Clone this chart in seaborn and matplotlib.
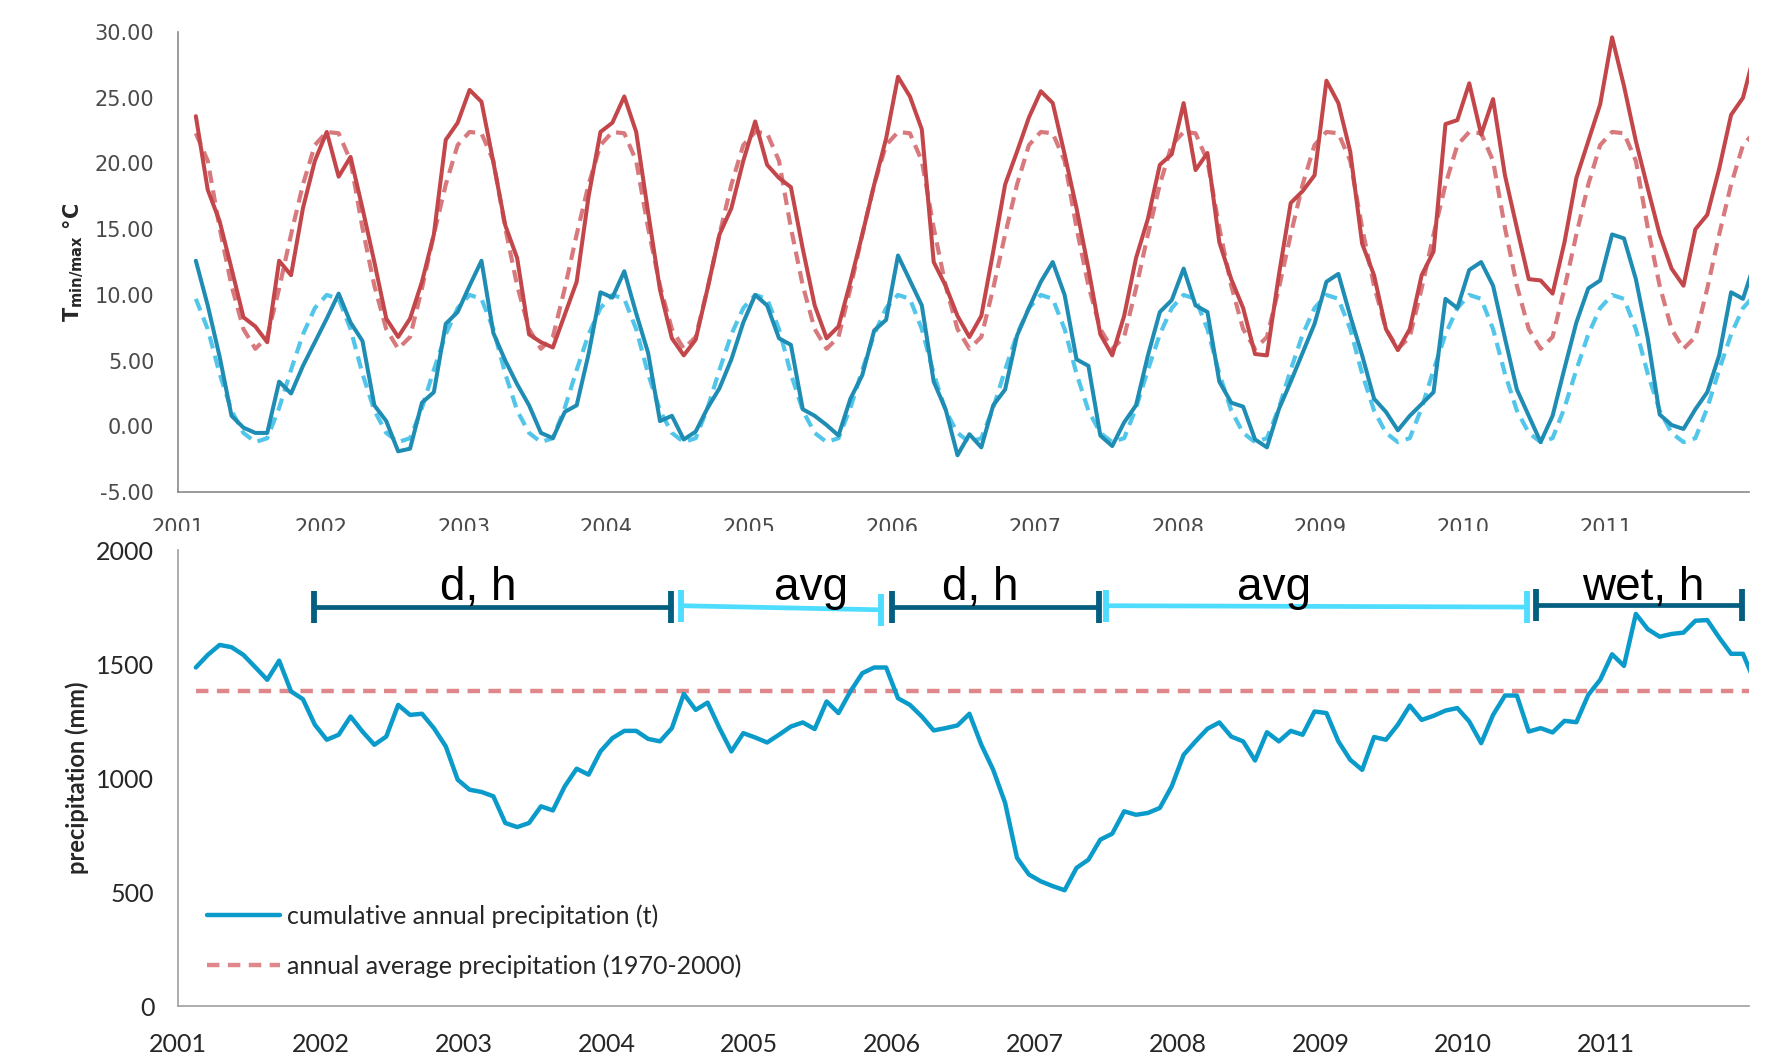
import numpy as np
import pandas as pd
import matplotlib
matplotlib.use("Agg")
import matplotlib.pyplot as plt
from matplotlib.patches import Rectangle
import seaborn as sns

# === data: monthly values Feb 2001 - Jan 2012 ===
months = pd.date_range("2001-02-01", "2012-01-01", freq="MS")

tmax = [23.6, 18.0, 15.6, 12.0, 8.3, 7.6, 6.4, 12.6, 11.5, 16.6, 20.2, 22.4,
        19.0, 20.5, 16.6, 12.5, 8.2, 6.8, 8.2, 11.0, 14.6, 21.8, 23.1, 25.6,
        24.7, 20.1, 15.3, 12.8, 7.0, 6.4, 6.0, 8.5, 11.0, 17.5, 22.4, 23.1,
        25.1, 22.4, 16.3, 10.4, 6.7, 5.4, 6.6, 10.5, 14.6, 16.6, 20.2, 23.2,
        19.9, 18.9, 18.2, 13.5, 9.2, 6.7, 7.6, 11.0, 14.6, 18.4, 21.9, 26.6,
        25.1, 22.6, 12.5, 10.7, 8.4, 6.8, 8.4, 13.3, 18.4, 20.9, 23.5, 25.5,
        24.6, 20.7, 16.6, 12.0, 7.0, 5.4, 8.4, 12.8, 15.8, 19.9, 20.7, 24.6,
        19.5, 20.8, 14.0, 11.2, 9.0, 5.5, 5.4, 11.5, 17.0, 17.9, 19.1, 26.3,
        24.6, 20.9, 13.9, 11.5, 7.4, 5.8, 7.4, 11.5, 13.3, 23.0, 23.3, 26.1,
        22.2, 24.9, 19.1, 15.1, 11.2, 11.1, 10.1, 14.0, 18.9, 21.7, 24.5, 29.6,
        25.9, 21.7, 18.1, 14.6, 12.0, 10.7, 15.0, 16.1, 19.6, 23.7, 25.0, 28.5]

tmin = [12.6, 9.2, 5.3, 0.8, -0.1, -0.5, -0.5, 3.4, 2.5, 4.6, 6.4, 8.2,
        10.1, 7.9, 6.5, 1.6, 0.4, -1.9, -1.7, 1.8, 2.6, 7.8, 8.7, 10.7,
        12.6, 7.1, 5.0, 3.2, 1.6, -0.5, -0.9, 1.1, 1.6, 5.5, 10.2, 9.8,
        11.8, 8.6, 5.6, 0.4, 0.8, -1.0, -0.4, 1.4, 2.9, 5.1, 7.9, 10.0,
        9.2, 6.7, 6.2, 1.3, 0.8, 0.1, -0.7, 2.1, 3.9, 7.3, 8.1, 13.0,
        11.1, 9.2, 3.4, 1.3, -2.2, -0.6, -1.6, 1.6, 2.8, 6.9, 9.0, 11.0,
        12.5, 10.0, 5.1, 4.6, -0.7, -1.5, 0.3, 1.6, 5.4, 8.7, 9.6, 12.0,
        9.2, 8.7, 3.4, 1.8, 1.5, -1.0, -1.6, 1.3, 3.4, 5.6, 7.8, 11.0,
        11.6, 8.4, 5.4, 2.1, 1.1, -0.3, 0.8, 1.7, 2.6, 9.7, 9.0, 11.9,
        12.5, 10.7, 6.7, 2.8, 0.8, -1.2, 0.8, 4.4, 7.9, 10.5, 11.1, 14.6,
        14.3, 11.2, 6.7, 0.9, 0.1, -0.2, 1.3, 2.6, 5.4, 10.2, 9.7, 12.5]

# 1970-2000 monthly normals, Jan..Dec
tmax_normal = [22.4, 22.3, 20.2, 15.1, 10.7, 7.4, 5.9, 6.8, 10.5, 14.6, 18.4, 21.4]
tmin_normal = [10.0, 9.7, 7.4, 4.0, 1.2, -0.5, -1.2, -0.9, 1.4, 4.3, 7.0, 9.0]

precip = [1485, 1540, 1584, 1574, 1540, 1486, 1431, 1515, 1380, 1346, 1234, 1168,
          1190, 1270, 1204, 1146, 1182, 1321, 1277, 1282, 1219, 1139, 993, 949,
          939, 920, 803, 785, 803, 876, 858, 964, 1041, 1015, 1117, 1175,
          1207, 1207, 1172, 1161, 1219, 1369, 1299, 1331, 1219, 1117, 1197, 1178,
          1156, 1190, 1226, 1244, 1215, 1336, 1285, 1380, 1460, 1485, 1485, 1350,
          1321, 1270, 1209, 1219, 1231, 1282, 1146, 1036, 891, 650, 577, 547,
          526, 508, 606, 642, 730, 756, 854, 839, 847, 869, 964, 1102,
          1161, 1216, 1244, 1182, 1161, 1077, 1201, 1161, 1207, 1190, 1292, 1285,
          1161, 1080, 1036, 1180, 1168, 1234, 1318, 1255, 1273, 1296, 1307, 1248,
          1153, 1277, 1362, 1362, 1204, 1219, 1200, 1251, 1245, 1365, 1431, 1543,
          1492, 1720, 1653, 1620, 1632, 1638, 1690, 1693, 1616, 1545, 1545, 1420]
precip_avg = 1380

# periods drawn above the precipitation curve
periods = ["d, h", "avg", "d, h", "avg", "wet, h"]
period_start = [2001.95, 2004.52, 2006.00, 2007.50, 2010.51]
period_end = [2004.45, 2005.92, 2007.45, 2010.445, 2011.95]
period_y0 = [1750, 1756, 1752, 1756, 1760]
period_y1 = [1750, 1738, 1752, 1750, 1760]
period_label_x = [2003.10, 2005.43, 2006.62, 2008.675, 2011.26]
period_kind = ["dark", "light", "dark", "light", "dark"]

years = list(range(2001, 2013))
year_labels = [str(y) for y in range(2001, 2012)] + [""]

# === table ===
df = pd.DataFrame({"month": months, "tmax": tmax, "tmin": tmin, "precip": precip})
df["x"] = df["month"].dt.year + (df["month"].dt.month - 0.5) / 12
df["tmax_n"] = [tmax_normal[m - 1] for m in df["month"].dt.month]
df["tmin_n"] = [tmin_normal[m - 1] for m in df["month"].dt.month]
df["p_avg"] = precip_avg

sns.set_theme(style="white")
plt.rcParams["font.family"] = ["Lato", "DejaVu Sans"]

fig = plt.figure(figsize=(17.87, 10.55), dpi=100)
ax1 = fig.add_axes([0.0996, 0.5336, 0.8791, 0.4360], zorder=0)
ax2 = fig.add_axes([0.0996, 0.0464, 0.8791, 0.4322], zorder=2)

# --- top: temperatures ---
sns.lineplot(data=df, x="x", y="tmax_n", ax=ax1, color="#d8797d", lw=3.0,
             linestyle=(0, (3.0, 1.8)))
sns.lineplot(data=df, x="x", y="tmin_n", ax=ax1, color="#52c6ea", lw=3.0,
             linestyle=(0, (3.0, 1.8)))
sns.lineplot(data=df, x="x", y="tmax", ax=ax1, color="#c3474a", lw=2.9)
sns.lineplot(data=df, x="x", y="tmin", ax=ax1, color="#1f8db3", lw=2.9)

ax1.set_xlim(2001, 2012)
ax1.set_ylim(-5, 30)
ax1.set_yticks(np.arange(-5, 31, 5))
ax1.set_yticklabels([f"{v:.2f}" for v in np.arange(-5, 31, 5)],
                    family="DejaVu Sans", fontsize=15, color="#4a4a4a")
ax1.set_xticks(years)
ax1.set_xticklabels(year_labels, family="DejaVu Sans", fontsize=15, color="#4a4a4a")
ax1.set_xlabel("")
ax1.set_ylabel(r"T$_{\mathregular{min/max}}$ °C", fontsize=15, fontweight="bold",
               family="DejaVu Sans", labelpad=6)
for s in ["top", "right"]:
    ax1.spines[s].set_visible(False)
for s in ["left", "bottom"]:
    ax1.spines[s].set_color("#8a8a8a")
    ax1.spines[s].set_linewidth(1.2)
ax1.tick_params(axis="both", direction="out", length=7, width=1.1, color="#8a8a8a", pad=10)
ax1.tick_params(axis="x", pad=11.8)

# white cover: lower panel sits on top of the upper panel's year labels
fig.patches.append(Rectangle((0, 0), 1, 1 - 531 / 1055, transform=fig.transFigure,
                             facecolor="white", edgecolor="none", zorder=1))

# --- bottom: precipitation ---
sns.lineplot(data=df, x="x", y="p_avg", ax=ax2, color="#df878a", lw=3.2,
             linestyle=(0, (2.8, 1.9)), label="annual average precipitation (1970-2000)")
sns.lineplot(data=df, x="x", y="precip", ax=ax2, color="#0b9bcb", lw=3.2,
             label="cumulative annual precipitation (t)")

colors = {"dark": "#045e80", "light": "#4edcff"}
for name, x0, x1, y0, y1, xl, kind in zip(periods, period_start, period_end, period_y0,
                                          period_y1, period_label_x, period_kind):
    c = colors[kind]
    ax2.plot([x0, x1], [y0, y1], color=c, lw=3.4, solid_capstyle="butt")
    ax2.plot([x0, x0], [y0 - 70, y0 + 70], color=c, lw=4.2, solid_capstyle="butt")
    ax2.plot([x1, x1], [y1 - 70, y1 + 70], color=c, lw=4.2, solid_capstyle="butt")
    ax2.text(xl, 1782, name, ha="center", va="baseline", fontsize=33,
             family="Liberation Sans", color="black")

ax2.set_xlim(2001, 2012)
ax2.set_ylim(0, 2000)
ax2.set_yticks([0, 500, 1000, 1500, 2000])
ax2.set_yticklabels(["0", "500", "1000", "1500", "2000"], fontsize=18, color="#262626")
ax2.set_xticks(years)
ax2.set_xticklabels(year_labels, fontsize=18, color="#262626")
ax2.set_xlabel("")
ax2.set_ylabel("precipitation (mm)", fontsize=17, fontweight="bold", labelpad=5)
for s in ["top", "right"]:
    ax2.spines[s].set_visible(False)
for s in ["left", "bottom"]:
    ax2.spines[s].set_color("#a0a0a0")
    ax2.spines[s].set_linewidth(1.2)
ax2.tick_params(axis="both", direction="out", length=7, width=1.1, color="#a0a0a0", pad=10)
ax2.tick_params(axis="x", pad=12.5)

h, l = ax2.get_legend_handles_labels()
ax2.legend(h[::-1], l[::-1], loc="lower left", bbox_to_anchor=(0.004, 0.012),
           frameon=False, fontsize=18, handlelength=2.93, handletextpad=0.28,
           labelspacing=1.05, labelcolor="#262626")

plt.savefig("out.png", dpi=100, facecolor="white")
plt.close()
